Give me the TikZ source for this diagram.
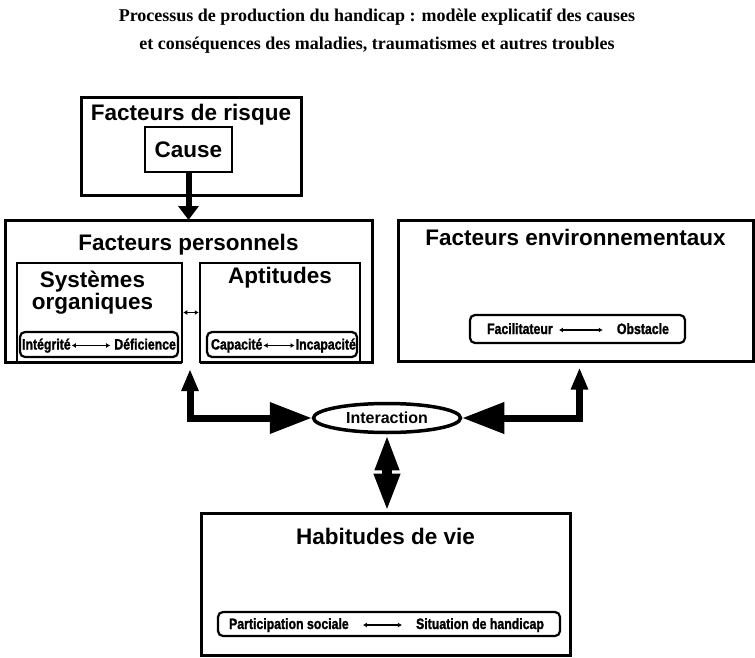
\documentclass[tikz,border=0pt]{standalone}
\usepackage{fontspec}
\setmainfont{Liberation Sans}
\newfontfamily\titlefont{Liberation Serif}
\newfontfamily\stripfont{Liberation Sans}[FakeStretch=0.82, FakeBold=1.5]
\usepackage{tikz}
\usetikzlibrary{shapes, arrows.meta, calc, positioning}
\tikzstyle{factor} = [rectangle, line width=3pt, inner sep=0pt]
\tikzstyle{subbox} = [rectangle, draw, line width=2.5pt, inner sep=0pt]
\tikzstyle{strip} = [rectangle, draw, rounded corners=5pt, line width=2.2pt, inner sep=0pt]
\tikzstyle{line} = [draw, line width=7pt]

\begin{document}
\begin{tikzpicture}[x=1pt, y=-1pt,
    heading/.style={font=\bfseries\fontsize{22.5}{19}\selectfont, inner sep=0pt, align=center},
    striptext/.style={font=\stripfont\bfseries\fontsize{15}{15}\selectfont, inner sep=0pt},
    titletext/.style={font=\titlefont\bfseries\fontsize{18}{20}\selectfont, inner sep=0pt},
    smallarrow/.style={draw, line width=1.4pt, {Latex[length=4pt,width=5pt]}-{Latex[length=4pt,width=5pt]}},
    causetip/.tip={Triangle[length=14pt,width=20pt]},
    boxtip/.tip={Triangle[length=22pt,width=16pt]},
    bigtip/.tip={Triangle[length=42pt,width=30pt]}
    ]
    \useasboundingbox (0,0) rectangle (755,658);

    \node[titletext, anchor=base] (title1) at (377,22) {Processus de production du handicap : modèle explicatif des causes};
    \node[titletext, anchor=base] (title2) at ([yshift=-28pt]title1.base) {et conséquences des maladies, traumatismes et autres troubles};

    \node[factor, draw, minimum width=220, minimum height=97] (risk) at (191,146.5) {};
    \node[heading, anchor=base] (risklabel) at ([yshift=-24pt]risk.north) {Facteurs de risque};
    \node[subbox, heading, minimum width=87, minimum height=45] (cause) at (188.5,149.5) {Cause};

    \node[factor, outer sep=0pt, minimum width=367, minimum height=142] (pers) at (188.5,291) {};
    \draw[line width=3pt] ([xshift=-6.5pt]pers.south) -| (pers.north west) -| (pers.south east) -- ([xshift=11.5pt]pers.south);
    \node[heading, anchor=base] (perslabel) at ([yshift=-30pt]pers.north) {Facteurs personnels};
    \node[subbox, minimum width=165, minimum height=99] (sys) at (99.5,312.5) {};
    \node[heading, anchor=north] (syslabel) at ([xshift=-7pt, yshift=-9pt]sys.north) {Systèmes\\organiques};
    \node[subbox, minimum width=160, minimum height=99] (apt) at (280,312.5) {};
    \node[heading, anchor=base] (aptlabel) at ([yshift=-22pt]apt.north) {Aptitudes};

    \node[factor, draw, minimum width=355, minimum height=141] (env) at (575.5,290.5) {};
    \node[heading, anchor=base] (envlabel) at ([yshift=-27pt]env.north) {Facteurs environnementaux};

    \node[factor, draw, minimum width=369, minimum height=142] (hab) at (385.5,584) {};
    \node[heading, anchor=base] (hablabel) at ([yshift=-33pt]hab.north) {Habitudes de vie};

    \node[ellipse, draw, line width=3.5pt, minimum width=147, minimum height=29, inner sep=0pt,
          font=\bfseries\fontsize{16}{16}\selectfont] (inter) at (387,418) {Interaction};

    \node[strip, minimum width=158, minimum height=25] (sysstrip) at (99,344.5) {};
    \node[striptext, anchor=base west] (integ) at ([xshift=3pt, yshift=-5pt]sysstrip.west) {Intégrité};
    \node[striptext, anchor=base east] (defic) at ([xshift=-3pt, yshift=-5pt]sysstrip.east) {Déficience};
    \draw[smallarrow, shorten <=1pt, shorten >=4pt] ([yshift=4pt]integ.base east) -- ([yshift=4pt]defic.base west);

    \node[strip, minimum width=150, minimum height=25] (aptstrip) at (282,344.5) {};
    \node[striptext, anchor=base west] (capac) at ([xshift=5pt, yshift=-5pt]aptstrip.west) {Capacité};
    \node[striptext, anchor=base east] (incap) at ([xshift=-2pt, yshift=-5pt]aptstrip.east) {Incapacité};
    \draw[smallarrow, shorten <=1pt, shorten >=1pt] ([yshift=4pt]capac.base east) -- ([yshift=4pt]incap.base west);

    \node[strip, minimum width=215, minimum height=28] (envstrip) at (577.5,329) {};
    \node[striptext, anchor=base west] (facil) at ([xshift=18pt, yshift=-5pt]envstrip.west) {Facilitateur};
    \node[striptext, anchor=base east] (obst) at ([xshift=-17pt, yshift=-5pt]envstrip.east) {Obstacle};
    \draw[smallarrow, shorten <=6pt, shorten >=14pt] ([yshift=4pt]facil.base east) -- ([yshift=4pt]obst.base west);

    \node[strip, minimum width=342, minimum height=24] (habstrip) at (389,624) {};
    \node[striptext, anchor=base west] (partic) at ([xshift=12pt, yshift=-5pt]habstrip.west) {Participation sociale};
    \node[striptext, anchor=base east] (situat) at ([xshift=-17pt, yshift=-5pt]habstrip.east) {Situation de handicap};
    \draw[smallarrow, shorten <=14pt, shorten >=14pt] ([yshift=4pt]partic.base east) -- ([yshift=4pt]situat.base west);

    \draw[smallarrow] (sys) -- (apt);
    \draw[line width=6pt, -causetip] (cause) -- (pers);
    \draw[line, boxtip-bigtip, shorten <=7pt] ([xshift=1.5pt]pers.south) |- (inter.west);
    \draw[line, boxtip-bigtip, shorten <=5pt] ([xshift=4pt]env.south) |- (inter.east);
    \draw[line width=10pt, {Triangle[length=36pt,width=22pt]}-{Triangle[length=38pt,width=24pt]}] (inter.south) -- (inter.south |- hab.north);
\end{tikzpicture}
\end{document}
